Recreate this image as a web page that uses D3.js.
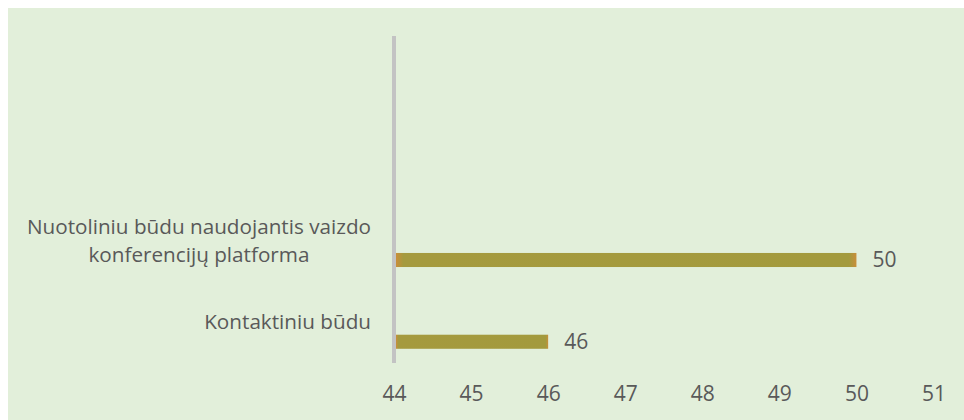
<!DOCTYPE html>
<html>
<head>
<meta charset="utf-8">
<script src="https://cdn.jsdelivr.net/npm/d3@7"></script>
<style>
  html, body { margin: 0; padding: 0; background: #ffffff; }
  svg { display: block; }
</style>
</head>
<body>
<svg id="chart" width="964" height="420"></svg>
<script>
// ---- data ----
const categories = [
  ["Nuotoliniu būdu naudojantis vaizdo", "konferencijų platforma"],
  ["Kontaktiniu būdu"]
];
const values = [50, 46];
const tickValues = [44, 45, 46, 47, 48, 49, 50, 51];
const xDomain = [44, 51];

// ---- layout ----
const W = 964, H = 420;
const svg = d3.select("#chart");
const textColor = "#595959";
const font = "'Open Sans', sans-serif";

// background panel
svg.append("rect").attr("x", 8).attr("y", 8).attr("width", W - 8).attr("height", H - 8)
  .attr("fill", "#e2efda");

const plotTop = 36, plotBottom = 363;
const x = d3.scaleLinear().domain(xDomain).range([394, 933.5]);
const keys = categories.map((c, i) => i);
const bandH = (plotBottom - plotTop) / 4;
const y = d3.scaleBand().domain(keys).range([plotBottom - 2 * bandH, plotBottom]);

// gradient for bars
const defs = svg.append("defs");
const grad = defs.append("linearGradient").attr("id", "barGrad")
  .attr("x1", "0%").attr("x2", "100%").attr("y1", "0%").attr("y2", "0%");
grad.append("stop").attr("offset", "0%").attr("stop-color", "#c98e3a");
grad.append("stop").attr("offset", "1.6%").attr("stop-color", "#a59a3e");
grad.append("stop").attr("offset", "98.4%").attr("stop-color", "#a39a3d");
grad.append("stop").attr("offset", "100%").attr("stop-color", "#c98e3a");

// bars
const barOff = 0.654, barFrac = 0.172;
svg.selectAll("rect.bar").data(values).enter().append("rect")
  .attr("class", "bar")
  .attr("x", x(xDomain[0]) + 2)
  .attr("y", (d, i) => y(i) + y.bandwidth() * barOff)
  .attr("width", d => x(d) - x(xDomain[0]) - 2)
  .attr("height", y.bandwidth() * barFrac)
  .attr("fill", "url(#barGrad)");

// value labels
svg.selectAll("text.val").data(values).enter().append("text")
  .attr("class", "val")
  .attr("x", d => x(d) + 16)
  .attr("y", (d, i) => y(i) + y.bandwidth() * (barOff + barFrac / 2))
  .attr("dy", "0.35em")
  .attr("font-family", font).attr("font-size", 21)
  .attr("fill", textColor)
  .text(d => d);

// vertical axis line
svg.append("line")
  .attr("x1", x(xDomain[0])).attr("x2", x(xDomain[0]))
  .attr("y1", plotTop).attr("y2", plotBottom)
  .attr("stroke", "#c3c3c3").attr("stroke-width", 4);

// x axis tick labels
const xAxis = d3.axisBottom(x).tickValues(tickValues).tickFormat(d3.format("d"))
  .tickSize(0).tickPadding(0);
const gx = svg.append("g").attr("transform", `translate(0, 394)`).call(xAxis);
gx.select(".domain").remove();
gx.selectAll("text")
  .attr("dy", "0.35em").attr("y", 0)
  .attr("font-family", font).attr("font-size", 21)
  .attr("fill", textColor);

// category labels
const lineH = 28;
categories.forEach((lines, i) => {
  const cy = y(i) + y.bandwidth() / 2;
  const t = svg.append("text")
    .attr("font-family", font).attr("font-size", 20.7)
    .attr("fill", textColor)
    .attr("text-anchor", "middle");
  lines.forEach((ln, j) => {
    t.append("tspan").text(ln)
      .attr("x", 0)
      .attr("y", cy + (j - (lines.length - 1) / 2) * lineH)
      .attr("dy", "0.35em");
  });
  // right-align the block at x = 371
  const blockW = t.node().getBBox().width;
  t.selectAll("tspan").attr("x", 371 - blockW / 2);
});
</script>
</body>
</html>
